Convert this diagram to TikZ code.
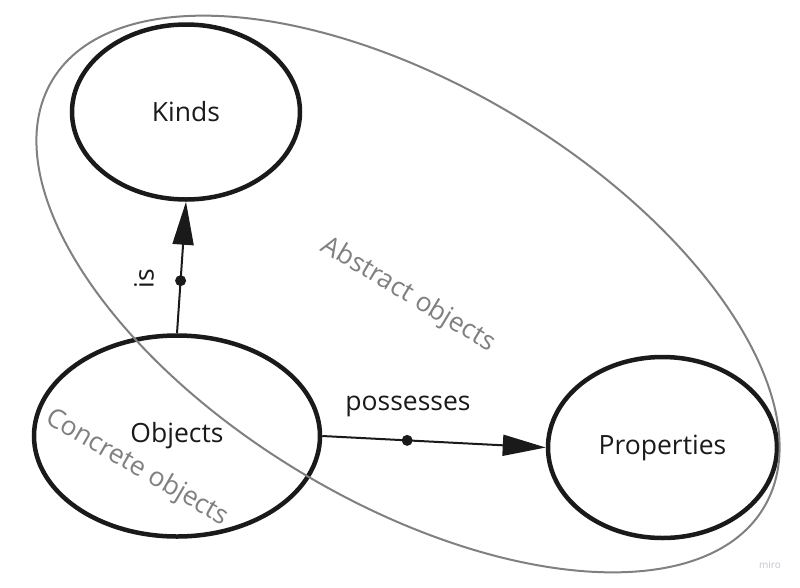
\documentclass[tikz,border=0pt]{standalone}
\usepackage{fontspec}
\setmainfont{Open Sans}
\usetikzlibrary{shapes.geometric,arrows.meta}
\definecolor{inkc}{HTML}{1A1A1A}
\definecolor{grayc}{HTML}{808080}
\definecolor{miroc}{HTML}{C4C4CC}
\tikzset{
  concept/.style={ellipse, draw=inkc, line width=4.5pt, inner sep=0pt, text=inkc, font=\fontsize{26.5}{30}\selectfont},
  rel/.style={draw=inkc, line width=2pt, -{Triangle[length=43pt,width=21pt]}},
  reldot/.style={circle, fill=inkc, inner sep=0pt, minimum size=11pt},
  rellabel/.style={text=inkc, font=\fontsize{26.5}{30}\selectfont},
  setlabel/.style={text=grayc, font=\fontsize{26.5}{30}\selectfont, rotate=-31},
}
\begin{document}
\begin{tikzpicture}[x=1pt,y=-1pt]
\useasboundingbox (0,0) rectangle (800,587);
\fill[white] (0,0) rectangle (800,587);
\node[concept, minimum width=228pt, minimum height=175pt] (kinds) at (186,112) {\raisebox{2pt}{Kinds}};
\node[concept, minimum width=286pt, minimum height=201pt] (obj) at (177,436) {Objects};
\node[concept, minimum width=229pt, minimum height=181pt] (prop) at (662.5,447.5) {Properties};
\draw[grayc, line width=2pt] (408,294) ellipse[x radius=415, y radius=208, rotate=-31];
\node[setlabel] (abs) at (408,295) {Abstract objects};
\node[setlabel, rotate=1] (conc) at (137,468) {Concrete objects};
\draw[rel] (obj.north) -- node[reldot, pos=0.4] (d1) {} (kinds.south);
\draw[rel] (obj.east) -- node[reldot, pos=0.38] (d2) {} (prop.west);
\node[rellabel, rotate=90] (islab) at (144,279) {is};
\node[rellabel] (poslab) at (408,406) {possesses};
\node[text=miroc, font=\fontsize{10}{12}\selectfont] (miro) at (770,565) {miro};
\end{tikzpicture}
\end{document}
